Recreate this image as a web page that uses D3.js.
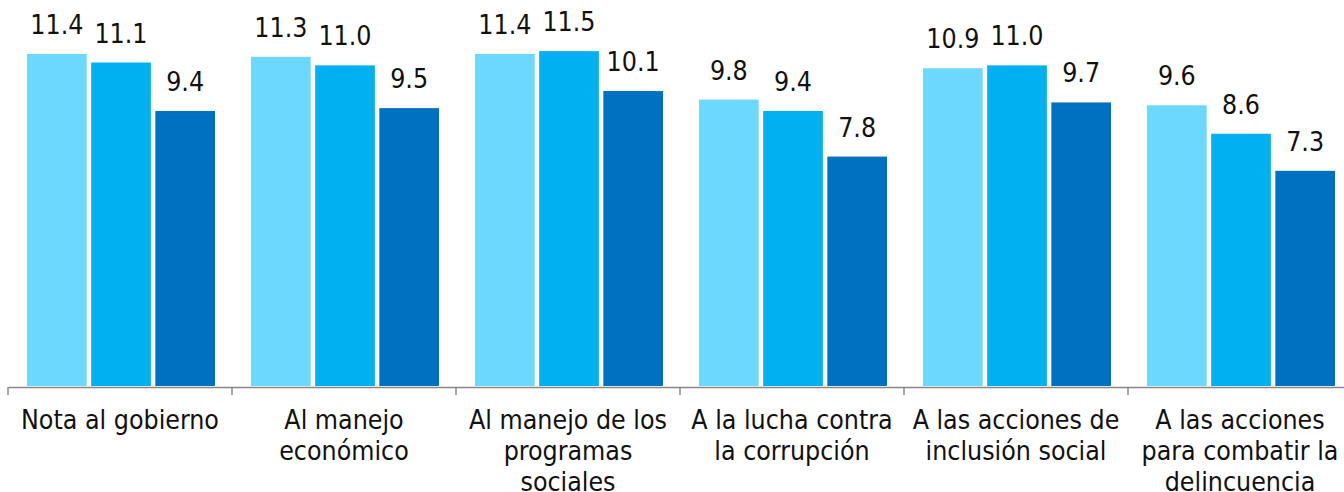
<!DOCTYPE html>
<html>
<head>
<meta charset="utf-8">
<script src="https://cdn.jsdelivr.net/npm/d3@7"></script>
<style>
  html, body { margin: 0; padding: 0; background: #fff; }
  svg { display: block; font-family: "DejaVu Sans Condensed", "DejaVu Sans", sans-serif; }
</style>
</head>
<body>
<svg id="chart"></svg>
<script>
const categories = [
    ["Nota al gobierno"],
    ["Al manejo", "económico"],
    ["Al manejo de los", "programas", "sociales"],
    ["A la lucha contra", "la corrupción"],
    ["A las acciones de", "inclusión social"],
    ["A las acciones", "para combatir la", "delincuencia"]
];
const seriesNames = ["s1", "s2", "s3"];
const values1 = [11.4, 11.3, 11.4, 9.8, 10.9, 9.6];
const values2 = [11.1, 11.0, 11.5, 9.4, 11.0, 8.6];
const values3 = [9.4, 9.5, 10.1, 7.8, 9.7, 7.3];
const colors = ["#6dd8fe", "#00b0f0", "#0070c0"];

const W = 1344, H = 492;
const svg = d3.select("#chart").attr("width", W).attr("height", H);

const catKeys = categories.map((c, i) => i);
const series = [values1, values2, values3];

// axis runs past the right edge, like the original
const xScale = d3.scaleBand().domain(catKeys).range([8, 8 + 224 * 6]).paddingInner(0).paddingOuter(0);
const xSub = d3.scaleBand().domain(seriesNames).range([19, 224 - 17]).paddingInner(0.07);
const yScale = d3.scaleLinear().domain([-0.25, 12]).range([386, 386 - 12.25 * 28.5]);

const groups = svg.selectAll(".grp")
    .data(catKeys)
    .enter().append("g")
    .attr("class", "grp")
    .attr("transform", d => `translate(${xScale(d)},0)`);

seriesNames.forEach((s, si) => {
    groups.append("rect")
        .attr("x", xSub(s))
        .attr("y", d => yScale(series[si][d]))
        .attr("width", xSub.bandwidth())
        .attr("height", d => yScale(-0.25) - yScale(series[si][d]))
        .attr("fill", colors[si]);

    groups.append("text")
        .attr("x", xSub(s) + xSub.bandwidth() / 2)
        .attr("y", d => yScale(series[si][d]) - 20)
        .attr("text-anchor", "middle")
        .style("font-size", "26.5px")
        .style("fill", "#111")
        .text(d => d3.format(".1f")(series[si][d]));
});

// baseline + ticks between categories
const axis = svg.append("g").attr("transform", "translate(0,387)")
    .call(d3.axisBottom(xScale).tickSize(0).tickFormat(""));
axis.select(".domain").attr("stroke", "#888").attr("stroke-width", 1.5);
axis.selectAll(".tick").remove();

svg.selectAll(".sep")
    .data(catKeys)
    .enter().append("line")
    .attr("x1", d => xScale(d)).attr("x2", d => xScale(d))
    .attr("y1", 387).attr("y2", 395)
    .attr("stroke", "#888").attr("stroke-width", 1.5);

const lab = svg.selectAll(".cat")
    .data(catKeys)
    .enter().append("text")
    .attr("class", "cat")
    .attr("text-anchor", "middle")
    .style("font-size", "26.5px")
    .style("fill", "#111");

lab.selectAll("tspan")
    .data(d => categories[d].map(t => ({ t, d })))
    .enter().append("tspan")
    .attr("x", d => xScale(d.d) + xScale.bandwidth() / 2)
    .attr("y", (d, i) => 429 + i * 31)
    .text(d => d.t);
</script>
</body>
</html>
